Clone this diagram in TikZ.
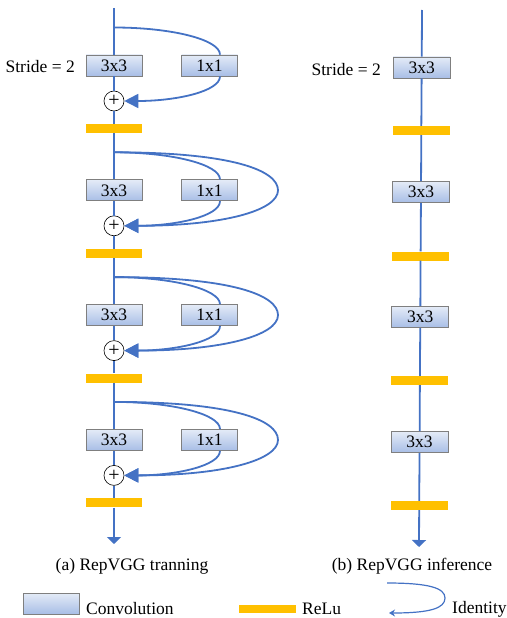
\documentclass[tikz,border=0pt]{standalone}
\usepackage{fontspec}
\setmainfont{Liberation Serif}
\usetikzlibrary{arrows.meta,calc}
\definecolor{lblue}{HTML}{4472C4}
\definecolor{relu}{HTML}{FFC000}
\definecolor{boxtop}{HTML}{E4EBF7}
\definecolor{boxbot}{HTML}{A8BEE6}
\definecolor{boxedge}{HTML}{7F7F7F}
\begin{document}
\begin{tikzpicture}[x=1pt,y=-1pt,
 conv/.style={draw=boxedge,line width=0.7pt,top color=boxtop,bottom color=boxbot,minimum width=56pt,minimum height=21pt,inner sep=0pt,font=\fontsize{17.5}{18}\selectfont},
 relubar/.style={fill=relu,minimum width=56pt,minimum height=9pt,inner sep=0pt},
 plusnode/.style={circle,draw=black,line width=0.6pt,fill=white,minimum size=20pt,inner sep=0pt,font=\fontsize{20}{20}\selectfont},
 flow/.style={lblue,line width=1.8pt},
 ident/.style={lblue,line width=1.8pt},
 txt/.style={font=\fontsize{17.5}{19}\selectfont,inner sep=0pt},
 endtip/.style={-{Triangle[length=7pt,width=14pt]}},
 idtip/.style={-{Triangle[length=14pt,width=14pt]}}]
\useasboundingbox (0,0) rectangle (506,618);

% ---------- left column (training) ----------
\coordinate (topL) at (114,8);
\coordinate (botL) at (114,544);
\foreach \i/\y in {1/65.5,2/190.3,3/315.1,4/439.9}{
  \node[conv] (b\i) at (114,\y) {3x3};
  \node[conv] (k\i) at (209.5,\y) {1x1};
  \node[plusnode] (p\i) at (114,\y+35.5) {+};
  \node[relubar] (r\i) at (114,\y+63) {};
  \coordinate (br\i) at (114,\y-38);
  \coordinate (kt\i) at ($(k\i.north)+(10.5,0)$);
  \coordinate (kb\i) at ($(k\i.south)+(10.5,0)$);
  \coordinate (far\i) at (278,\y);
}
\draw[flow] (topL) -- (b1);
\foreach \i/\j in {1/2,2/3,3/4}{
  \draw[flow] (b\i) -- (p\i);
  \draw[flow] (p\i) -- (r\i);
  \draw[flow] (r\i) -- (b\j);
}
\draw[flow] (b4) -- (p4);
\draw[flow] (p4) -- (r4);
\draw[flow,endtip] (r4) -- (botL);

\foreach \i in {1,2,3,4}{
  \draw[ident] (br\i) .. controls +(58,0) and +(0,-15) .. (kt\i);
  \draw[ident,idtip] (kb\i) .. controls +(0,15) and +(52,0) .. (p\i.east);
}
\foreach \i in {2,3,4}{
  \draw[ident,idtip] (br\i) .. controls +(118,0) and +(0,-20) .. (far\i)
               .. controls +(0,20) and +(100,0) .. (p\i.east);
}

\node[txt,anchor=base east] (st1) at (75,72.5) {Stride = 2};

% ---------- right column (inference) ----------
\coordinate (topR) at (422,10);
\coordinate (botR) at (419,547);
\foreach \i/\x/\y/\rx/\ry in {1/421.7/67.5/421.3/130.5,2/421/192/420.6/256,3/420.3/317/419.9/380.5,4/419.6/442/419.2/505.5}{
  \node[conv,minimum width=57pt] (c\i) at (\x,\y) {3x3};
  \node[relubar,minimum width=57pt] (s\i) at (\rx,\ry) {};
}
\draw[flow] (topR) -- (c1);
\foreach \i/\j in {1/2,2/3,3/4}{
  \draw[flow] (c\i) -- (s\i);
  \draw[flow] (s\i) -- (c\j);
}
\draw[flow] (c4) -- (s4);
\draw[flow,endtip] (s4) -- (botR);

\node[txt,anchor=base east] (st2) at (381,75) {Stride = 2};

% ---------- captions ----------
\node[txt,anchor=base] (capa) at (132,570) {(a) RepVGG tranning};
\node[txt,anchor=base] (capb) at (412,570) {(b) RepVGG inference};

% ---------- legend ----------
\node[conv] (lgc) at (51,603.5) {};
\node[txt,anchor=base west] (lgct) at (86,614) {Convolution};
\node[relubar,minimum width=57pt,minimum height=8pt] (lgr) at (267.5,609) {};
\node[txt,anchor=base west] (lgrt) at (302,614) {ReLu};
\coordinate (ida) at (387,583);
\coordinate (idm) at (445,598);
\coordinate (idb) at (389,613);
\draw[lblue,line width=1.2pt,-{Stealth[length=6pt,width=7pt]}] (ida) .. controls +(42,0) and +(0,-10) .. (idm) .. controls +(0,10) and +(42,0) .. (idb);
\node[txt,anchor=base west] (lgit) at (452,613) {Identity};
\end{tikzpicture}
\end{document}
